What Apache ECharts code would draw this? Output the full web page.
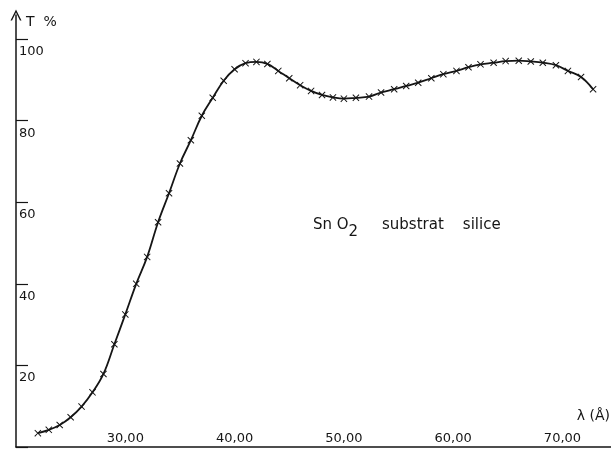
<!DOCTYPE html>
<html lang="fr">

<head>
  <meta charset="UTF-8">
  <title>SnO2 substrat silice</title>
</head>

<body style="margin:0">
  <div id="main" style="width:611px;height:452px"></div>

  <script src="https://cdn.jsdelivr.net/npm/echarts@6/dist/echarts.min.js"></script>

  <script>
    // longueur d'onde en Å
    var wavelength = [2200, 2300, 2400, 2500, 2600, 2700, 2800, 2900,
      3000, 3100, 3200, 3300, 3400, 3500, 3600, 3700, 3800, 3900, 4000, 4100,
      4200, 4300, 4400, 4500, 4600, 4700, 4800, 4900, 5000, 5110, 5230, 5340, 5460, 5570,
      5680, 5800, 5910, 6030, 6140, 6250, 6370, 6480, 6600, 6710, 6820, 6940, 7050, 7170, 7280]
    // transmission T %
    var transmission = [3.4, 4.2, 5.4, 7.3, 9.9, 13.4, 17.9, 25.2,
      32.5, 40.0, 46.6, 55.1, 62.2, 69.5, 75.2, 81.2, 85.6, 89.8, 92.6, 94.1,
      94.4, 93.9, 92.2, 90.4, 88.7, 87.3, 86.3, 85.7, 85.4, 85.6, 85.9, 86.9, 87.7, 88.5,
      89.3, 90.4, 91.4, 92.2, 93.1, 93.8, 94.2, 94.6, 94.7, 94.5, 94.2, 93.6, 92.2, 90.7, 87.7]
    var yTickLabels = [20, 40, 60, 80, 100]
    var xTickLabels = [3000, 4000, 5000, 6000, 7000]

    var ink = '#151515'
    var font = 'DejaVu Sans'

    var myChart = echarts.init(document.getElementById('main'))

    var option = {
      backgroundColor: '#fff',
      animation: false,
      grid: { left: 16, right: 0, top: 15, bottom: 5, containLabel: false, outerBoundsMode: 'none' },
      xAxis: {
        type: 'value',
        min: 2000,
        max: 7444,
        interval: 1000,
        splitLine: { show: false },
        axisTick: { show: false },
        axisLine: { lineStyle: { color: ink, width: 1.5 } },
        axisLabel: {
          inside: true,
          margin: 2,
          color: ink,
          fontFamily: font,
          fontSize: 13,
          showMaxLabel: false,
          formatter: function (v) {
            return xTickLabels.indexOf(v) >= 0 ? (v / 100) + ',00' : ''
          }
        }
      },
      yAxis: {
        type: 'value',
        min: 0,
        max: 105.9,
        interval: 20,
        splitLine: { show: false },
        axisLine: {
          onZero: false,
          symbol: ['none', 'path://M0,10L5,0L10,10L8.6,10L5,2.8L1.4,10Z'],
          symbolSize: [11, 11],
          lineStyle: { color: ink, width: 1.5 }
        },
        axisTick: { inside: true, length: 12, lineStyle: { color: ink, width: 1.2 } },
        axisLabel: {
          inside: true,
          margin: 3,
          color: ink,
          fontFamily: font,
          fontSize: 13,
          verticalAlign: 'top',
          padding: [6, 0, 0, 0],
          showMaxLabel: false,
          formatter: function (v) {
            return yTickLabels.indexOf(v) >= 0 ? String(v) : ''
          }
        }
      },
      graphic: [
        {
          type: 'text', left: 26, top: 15,
          style: { text: 'T  %', fontSize: 14, fontFamily: font, fill: ink }
        },
        {
          type: 'text', right: 1, top: 409,
          style: { text: 'λ (Å)', fontSize: 14, fontFamily: font, fill: ink }
        },
        {
          type: 'text', left: 313, top: 218,
          style: {
            text: 'Sn O{sub|2}     substrat    silice',
            fontSize: 15,
            fontFamily: font,
            fill: ink,
            rich: { sub: { fontSize: 15, fontFamily: font, padding: [13, 0, 0, 0], fill: ink } }
          }
        }
      ],
      series: [
        {
          type: 'line',
          smooth: 0.4,
          data: wavelength.map(function (w, i) { return [w, transmission[i]] }),
          symbol: 'path://M1,0L5,4L9,0L10,1L6,5L10,9L9,10L5,6L1,10L0,9L4,5L0,1Z',
          symbolSize: 7,
          itemStyle: { color: ink },
          lineStyle: { color: ink, width: 1.8 }
        }
      ]
    }

    myChart.setOption(option)
  </script>
</body>

</html>
